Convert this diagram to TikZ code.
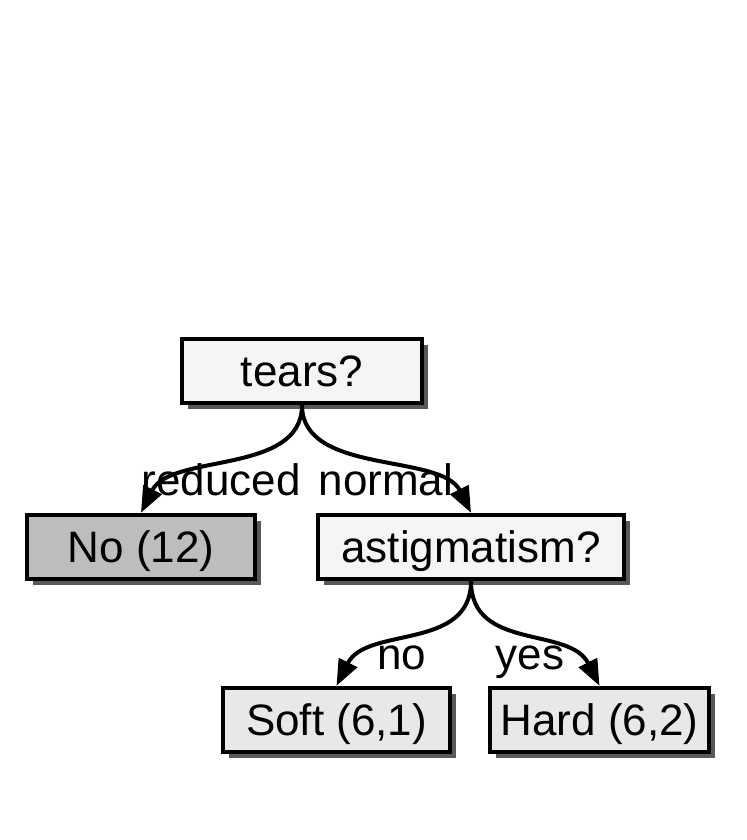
\documentclass[tikz,border=0pt]{standalone}
\usepackage{fontspec}
\setmainfont{Liberation Sans}
\usetikzlibrary{shadows,arrows.meta}

\begin{document}
\begin{tikzpicture}[x=0.5pt,y=0.5pt,
  box/.style={draw,line width=2.2pt,inner sep=0pt,minimum height=32pt,
    text depth=0pt,font=\fontsize{22}{26}\selectfont,
    drop shadow={shadow xshift=3pt,shadow yshift=-3pt,fill=black!65,opacity=1}},
  question/.style={box,fill=black!4},
  answer/.style={box,fill=black!9},
  branch/.style={line width=2pt,-{Triangle[length=13pt,width=10pt]}},
  lbl/.style={font=\fontsize{22}{26}\selectfont,anchor=base,inner sep=0pt}]

\useasboundingbox (0,0) rectangle (746,840);

\node[question,minimum width=120pt] (tears) at (302,469) {tears?};
\node[answer,fill=black!26,minimum width=114pt] (no12) at (141,293) {No (12)};
\node[question,minimum width=153pt] (astig) at (471,293) {astigmatism?};
\node[answer,minimum width=113.5pt] (soft) at (336.5,120) {Soft (6,1)};
\node[answer,minimum width=109.5pt] (hard) at (599.5,120) {Hard (6,2)};

\draw[branch] (tears.south) .. controls +(0,-70) and +(30,60) .. (no12.north);
\draw[branch] (tears.south) .. controls +(0,-70) and +(-30,60) .. (astig.north);
\draw[branch] (astig.south) .. controls +(0,-70) and +(30,60) .. (soft.north);
\draw[branch] (astig.south) .. controls +(0,-70) and +(-30,60) .. (hard.north);

\node[lbl] (reduced) at (221,344) {reduced};
\node[lbl] (normal) at (386,344) {normal};
\node[lbl] (nolbl) at (402,170) {no};
\node[lbl] (yeslbl) at (530,170) {yes};
\end{tikzpicture}
\end{document}
